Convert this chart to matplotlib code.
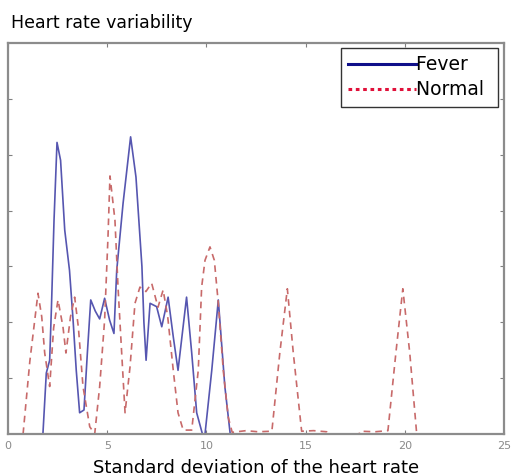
import numpy as np
import matplotlib
matplotlib.use('Agg')
import matplotlib.pyplot as plt
from matplotlib.lines import Line2D

# values
fever_x = [1.76, 1.93, 2.1, 2.19, 2.32, 2.47, 2.65, 2.86, 3.1, 3.28, 3.44, 3.61, 3.83,
           4.0, 4.17, 4.4, 4.62, 4.87, 5.12, 5.34, 5.48, 5.8, 6.18, 6.45, 6.6, 6.75,
           6.85, 6.96, 7.16, 7.49, 7.75, 8.07, 8.33, 8.57, 9.0, 9.26, 9.51, 9.8, 9.93,
           10.27, 10.6, 10.93, 11.2]
fever_y = [0.0, 1.09, 1.32, 2.27, 3.83, 5.22, 4.9, 3.65, 2.93, 2.04, 1.14, 0.38, 0.43,
           1.45, 2.4, 2.2, 2.06, 2.43, 2.04, 1.8, 2.93, 4.13, 5.32, 4.6, 3.8, 3.0,
           2.0, 1.32, 2.34, 2.28, 1.92, 2.45, 1.74, 1.14, 2.45, 1.45, 0.38, 0.0, 0.0,
           1.14, 2.4, 0.85, 0.0]

normal_x = [0.76, 1.1, 1.51, 1.7, 1.85, 2.1, 2.3, 2.52, 2.77, 2.92, 3.15, 3.36, 3.55,
            3.78, 4.12, 4.37, 4.62, 4.87, 5.04, 5.14, 5.39, 5.55, 5.73, 5.9, 6.15, 6.4,
            6.65, 6.95, 7.24, 7.56, 7.82, 8.05, 8.33, 8.57, 8.83, 9.26, 9.59, 9.76,
            9.93, 10.18, 10.4, 10.6, 10.85, 11.1, 11.3, 12.0, 12.6, 13.3, 13.7, 14.08,
            14.38, 14.8, 15.4, 16.06, 16.1, 17.7, 17.75, 18.5, 19.15, 19.55, 19.9,
            20.25, 20.6]
normal_y = [0.0, 1.3, 2.52, 2.1, 1.45, 0.85, 1.9, 2.4, 1.92, 1.45, 2.1, 2.45, 1.9,
            0.85, 0.13, 0.0, 0.85, 2.04, 3.53, 4.62, 3.83, 2.6, 1.45, 0.38, 1.2, 2.34,
            2.63, 2.55, 2.7, 2.27, 2.58, 2.1, 1.14, 0.38, 0.07, 0.07, 1.14, 2.63,
            3.11, 3.35, 3.11, 2.34, 1.14, 0.3, 0.03, 0.06, 0.04, 0.05, 1.45, 2.6,
            1.45, 0.05, 0.06, 0.04, 0.0, 0.0, 0.05, 0.04, 0.06, 1.45, 2.6,
            1.45, 0.0]

xticks = [0, 5, 10, 15, 20, 25]

fig = plt.figure(figsize=(5.11, 4.76), dpi=100)
ax = fig.add_axes([8/511, 1 - 434/476, 496/511, 391/476])

ax.plot(fever_x, fever_y, color='#5656b0', lw=1.2)
ax.plot(normal_x, normal_y, color='#c86a6a', lw=1.2, ls=(0, (4, 3)))

ax.set_xlim(0, 25)
ax.set_ylim(0, 7)
ax.set_xticks(xticks)
ax.set_xticklabels([str(t) for t in xticks], color='#8a8a8a', fontsize=8)
ax.set_yticks(range(1, 7))
ax.set_yticklabels([])
ax.tick_params(direction='in', length=3, color='#808080', top=True, right=True, pad=5)
for s in ax.spines.values():
    s.set_color('#8c8c8c')
    s.set_linewidth(1.6)

fig.text(11/511, 1 - 28/476, 'Heart rate variability', fontsize=12.5, ha='left', va='baseline')
ax.set_xlabel('Standard deviation of the heart rate', fontsize=13, labelpad=6)

handles = [Line2D([], [], color='#10108a', lw=2.2),
           Line2D([], [], color='#e0103a', lw=2.2, ls=(0, (1.2, 1.2)))]
leg = ax.legend(handles, ['Fever ', 'Normal '], loc='upper right',
                bbox_to_anchor=(498/511, 1 - 48/476), bbox_transform=fig.transFigure,
                fancybox=False, fontsize=13.5, handlelength=3.6, handletextpad=0.05,
                borderpad=0.4, labelspacing=0.3, borderaxespad=0)
leg.get_frame().set_edgecolor('black')
leg.get_frame().set_linewidth(1.0)

plt.savefig('out.png', dpi=100)
